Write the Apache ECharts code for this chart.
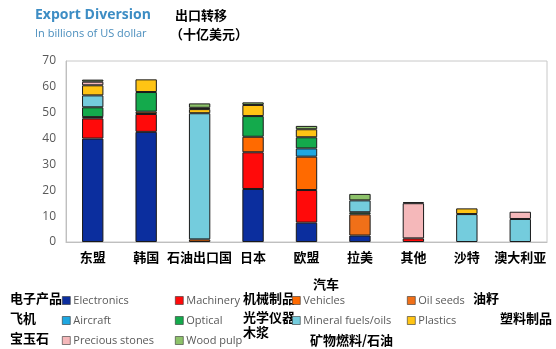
<!DOCTYPE html>
<html>
<head>
<meta charset="utf-8">
<script src="https://cdn.jsdelivr.net/npm/echarts@6/dist/echarts.min.js"></script>
<style>
  html, body { margin: 0; padding: 0; background: #ffffff; }
  #chart { width: 556px; height: 349px; }
</style>
</head>
<body>
<div id="chart"></div>
<script>
// Destination markets (x-axis)
const categories = ['东盟', '韩国', '石油出口国', '日本', '欧盟', '拉美', '其他', '沙特', '澳大利亚'];

// Product groups, stacked bottom to top (billions of US dollar)
const electronics     = [40.0, 42.6, 0,    20.5, 7.5,  2.5, 0,    0,    0];
const machinery       = [7.8,  6.9,  0,    14.2, 12.6, 0,   1.4,  0,    0];
const vehicles        = [0.5,  0.9,  1.0,  6.0,  12.9, 0,   0,    0,    0];
const oilSeeds        = [0,    0,    0,    0,    0,    8.2, 0,    0,    0];
const aircraft        = [0,    0,    0,    0,    3.2,  0,   0,    0,    0];
const optical         = [3.8,  7.6,  0,    8.0,  4.3,  0.8, 0,    0,    0];
const mineralFuels    = [4.6,  0,    48.8, 0,    0,    4.6, 0,    10.8, 8.9];
const plastics        = [3.9,  4.9,  1.6,  4.3,  3.1,  0,   0,    2.2,  0];
const preciousStones  = [1.4,  0,    0.5,  0,    0,    0,   13.6, 0,    2.8];
const woodPulp        = [0.8,  0,    1.7,  1.0,  1.3,  2.5, 0.4,  0,    0];

// Y-axis range and step
const yMin = 0, yMax = 70, yStep = 10;

const seriesDefs = [
  { name: 'Electronics',        data: electronics,    color: '#0B2E9E', zh: '电子产品' },
  { name: 'Machinery',          data: machinery,      color: '#FF0A0A', zh: '机械制品' },
  { name: 'Vehicles',           data: vehicles,       color: '#FF6A00', zh: '汽车' },
  { name: 'Oil seeds',          data: oilSeeds,       color: '#F07018', zh: '油籽' },
  { name: 'Aircraft',           data: aircraft,       color: '#1EA7E1', zh: '飞机' },
  { name: 'Optical',            data: optical,        color: '#14AA4C', zh: '光学仪器' },
  { name: 'Mineral fuels/oils', data: mineralFuels,   color: '#74CCDD', zh: '矿物燃料/石油' },
  { name: 'Plastics',           data: plastics,       color: '#FFC414', zh: '塑料制品' },
  { name: 'Precious stones',    data: preciousStones, color: '#F5B8BA', zh: '宝玉石' },
  { name: 'Wood pulp',          data: woodPulp,       color: '#8DC26A', zh: '木浆' }
];

// Legend grid: four columns, three rows
const legendPos = [
  [62, 295], [175, 295], [292, 295], [407, 295],
  [62, 315], [175, 315], [292, 315], [407, 315],
  [62, 335], [175, 335]
];

// Chinese captions placed beside each legend entry
const zhPos = [
  [10, 300], [243, 300], [313, 286], [473, 300],
  [10, 320], [243, 319], [310, 342], [500, 320],
  [10, 340], [243, 334]
];

const cjk = '"Noto Sans CJK SC", sans-serif';
const latin = '"Open Sans", "Noto Sans", sans-serif';

const chart = echarts.init(document.getElementById('chart'), null, { renderer: 'canvas' });

const option = {
  backgroundColor: '#ffffff',
  animation: false,
  grid: {
    left: 66, right: 9, top: 61, bottom: 107,
    show: true, borderColor: '#c8c8c8', borderWidth: 1
  },
  xAxis: {
    type: 'category',
    data: categories,
    axisLine: { show: true, lineStyle: { color: '#bfbfbf' } },
    axisTick: { show: false },
    axisLabel: {
      margin: 9, interval: 0,
      fontFamily: cjk, fontWeight: 'bold', fontSize: 13, color: '#000000'
    }
  },
  yAxis: {
    type: 'value',
    min: yMin, max: yMax, interval: yStep,
    axisLine: { show: true, lineStyle: { color: '#bfbfbf' } },
    axisTick: { show: false },
    splitLine: { show: false },
    axisLabel: { margin: 10, fontFamily: latin, fontSize: 12, color: '#595959' }
  },
  legend: seriesDefs.map((s, i) => ({
    data: [s.name],
    left: legendPos[i][0], top: legendPos[i][1],
    itemWidth: 8, itemHeight: 8, itemGap: 4,
    padding: 0,
    icon: 'rect',
    itemStyle: { borderColor: '#333', borderWidth: 0.6 },
    textStyle: { fontFamily: latin, fontSize: 11, color: '#595959', padding: [0, 0, 0, -2] },
    selectedMode: false
  })),
  series: seriesDefs.map(s => ({
    name: s.name,
    type: 'bar',
    stack: 'total',
    barWidth: '40%',
    // empty slots are skipped so no outline is drawn for them
    data: s.data.map(v => (v === 0 ? '-' : v)),
    itemStyle: { color: s.color, borderColor: '#1a1a1a', borderWidth: 1 }
  })),
  graphic: [
    { type: 'text', left: 35, top: 8,
      style: { text: 'Export Diversion', font: 'bold 14px ' + latin, fill: '#3D8DC4' } },
    { type: 'text', left: 35, top: 28,
      style: { text: 'In billions of US dollar', font: '11px ' + latin, fill: '#4A8EBD' } },
    { type: 'text', left: 175, top: 9,
      style: { text: '出口转移', font: 'bold 13px ' + cjk, fill: '#000' } },
    { type: 'text', left: 170, top: 28,
      style: { text: '（十亿美元）', font: 'bold 13px ' + cjk, fill: '#000' } }
  ].concat(seriesDefs.map((s, i) => ({
    type: 'text', left: zhPos[i][0], top: zhPos[i][1] - 8,
    style: { text: s.zh, font: 'bold 13px ' + cjk, fill: '#000' }
  })))
};

chart.setOption(option);
</script>
</body>
</html>
